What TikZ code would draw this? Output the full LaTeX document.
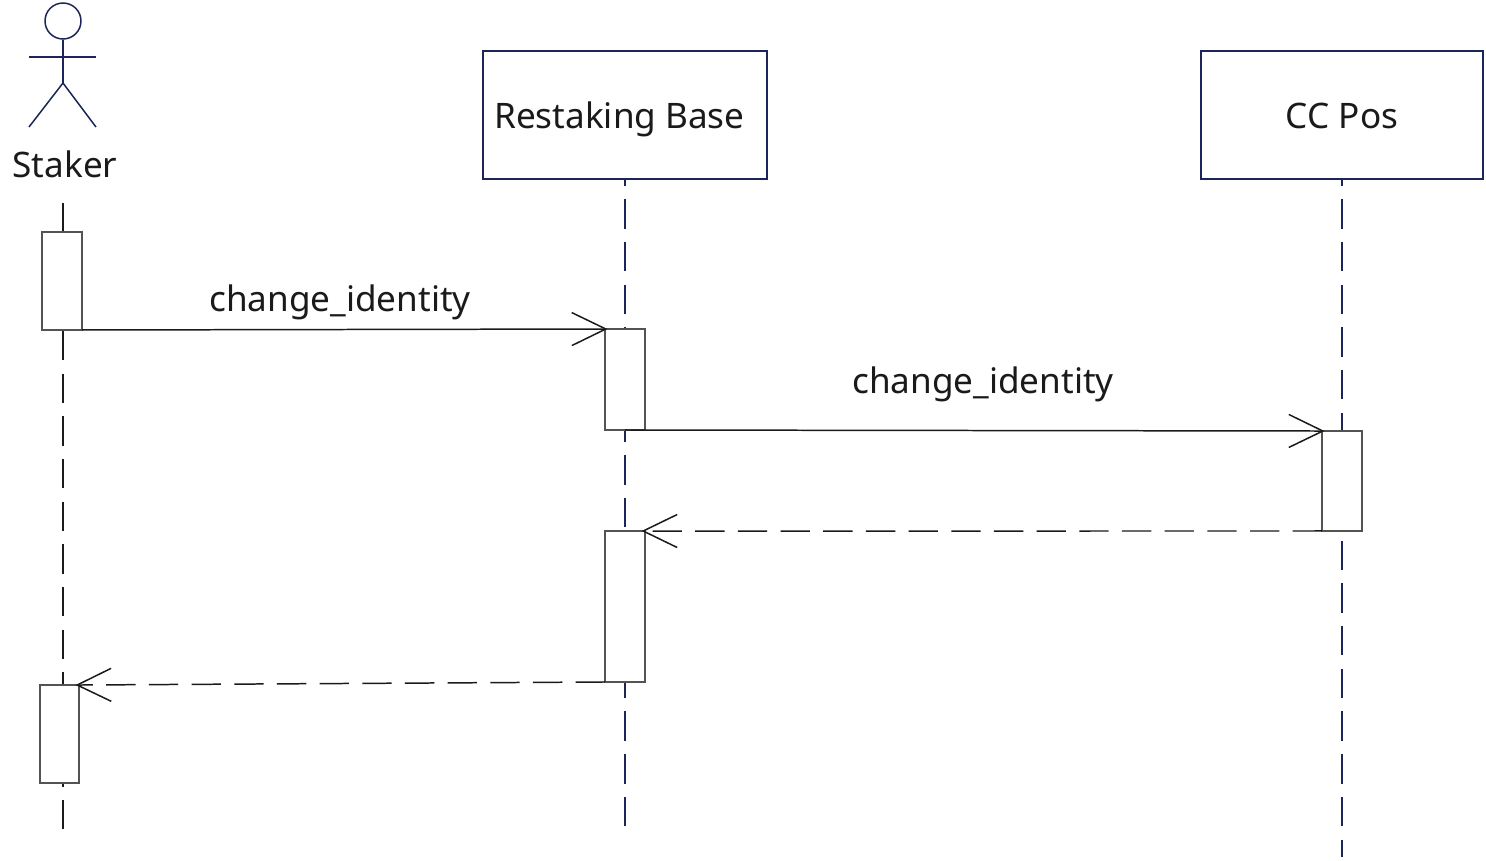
\documentclass[tikz,border=0pt]{standalone}
\usepackage{fontspec}
\setmainfont{Noto Sans}
\usepackage{tikz}
\usetikzlibrary{arrows.meta, positioning}
\definecolor{umlnavy}{HTML}{1B2557}
\definecolor{umlink}{HTML}{1A1A1A}
\tikzset{>={Straight Barb[length=0.68cm, width=0.66cm]}}
\tikzset{
  headbox/.style={draw=umlnavy, line width=1pt, fill=white, inner sep=0pt, outer sep=0pt, anchor=north west, font=\fontsize{20}{24}\selectfont, text=umlink, text height=0.56cm, text depth=0cm},
  activebox/.style={draw=umlink!75, line width=0.6pt, fill=white, inner sep=0pt, outer sep=0pt, minimum width=0.8cm, anchor=north west},
  lifeline/.style={line width=0.85pt, dash pattern=on 16.7pt off 7.59pt},
  syncmsg/.style={->, umlink, line width=0.85pt, shorten >=-0.05cm},
  returnmsg/.style={->, umlink, line width=0.85pt, dash pattern=on 16.7pt off 7.59pt, shorten >=-0.07cm},
  msglabel/.style={font=\fontsize{20}{24}\selectfont, text=umlink, inner sep=0pt},
  actorline/.style={umlnavy, line width=0.85pt},
}
\begin{document}
\begin{tikzpicture}[x=0.02cm, y=-0.02cm]
\useasboundingbox (0, 0) rectangle (1486, 860);
% actor
\node[draw=umlnavy, line width=0.85pt, circle, minimum size=0.72cm, inner sep=0pt] (stakerhead) at (63, 21) {};
\coordinate (stakerhip) at (63, 83);
\coordinate (armleft) at (29, 57);
\coordinate (armright) at (96, 57);
\coordinate (legleft) at (29, 127);
\coordinate (legright) at (96, 127);
\draw[actorline] (stakerhead.south) -- (stakerhip);
\draw[actorline] (armleft) -- (armright);
\draw[actorline] (legleft) -- (stakerhip) -- (legright);
\node[msglabel] (stakerlabel) at (65, 164) {Staker};

% heads
\node[headbox, minimum width=5.68cm, minimum height=2.56cm] (base) at (483, 51) {\hspace{-0.22cm}Restaking Base};
\node[headbox, minimum width=5.64cm, minimum height=2.56cm] (pos) at (1201, 51) {CC Pos};

% lifelines
\coordinate (stakertop) at (63, 203);
\coordinate (stakerend) at (63, 829);
\coordinate (baseend) at (625, 827);
\coordinate (posend) at (1342, 857);
\draw[lifeline, umlink] (stakertop) -- (stakerend);
\draw[lifeline, umlnavy, dash phase=12.7pt] (625, 179) -- (baseend);
\draw[lifeline, umlnavy, dash phase=12.7pt] (1342, 179) -- (posend);

% activations
\node[activebox, minimum height=1.96cm] (stakerone) at (42, 232) {};
\node[activebox, minimum height=2.02cm] (baseone) at (605, 329) {};
\node[activebox, minimum height=2.00cm] (posone) at (1322, 431) {};
\node[activebox, minimum height=3.02cm] (basetwo) at (605, 531) {};
\node[activebox, minimum height=1.96cm, minimum width=0.78cm] (stakertwo) at (40, 685) {};

% messages
\draw[syncmsg] (stakerone.south east) -- node[msglabel, above=0.18cm, midway, xshift=-0.07cm] {change\_identity} (baseone.north west);
\draw[syncmsg] (baseone.south) -- node[msglabel, above=0.56cm, midway, xshift=0.19cm] {change\_identity} (posone.north west);
\draw[returnmsg] (posone.south west) -- (basetwo.north east);
\draw[returnmsg] (basetwo.south west) -- (stakertwo.north east);

\end{tikzpicture}
\end{document}
